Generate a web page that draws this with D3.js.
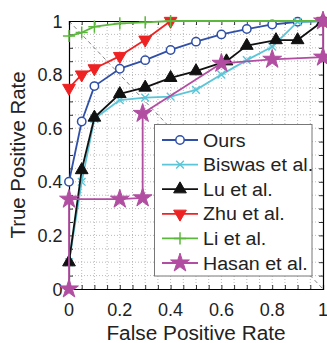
<!DOCTYPE html>
<html><head><meta charset="utf-8">
<script src="https://cdn.jsdelivr.net/npm/d3@7"></script>
<style>
html,body{margin:0;padding:0;background:#fff;}
svg{display:block;}
text{font-family:"Liberation Sans",Arial,sans-serif;fill:#222;}
</style></head>
<body><svg id="c" width="327" height="343"></svg>
<script>
// ---- data ----
const seriesNames = ["Ours","Biswas et al.","Lu et al.","Zhu et al.","Li et al.","Hasan et al."];
const oursFPR   = [0,0.05,0.1,0.2,0.3,0.4,0.5,0.6,0.7,0.8,0.9,1];
const oursTPR   = [0.40,0.625,0.757,0.822,0.854,0.892,0.923,0.95,0.97,0.987,0.997,1];
const biswasFPR = [0,0.05,0.1,0.2,0.3,0.4,0.5,0.6,0.7,0.8,0.9,1];
const biswasTPR = [0.10,0.40,0.635,0.705,0.714,0.718,0.743,0.80,0.854,0.904,0.997,1];
const luFPR     = [0,0.05,0.1,0.2,0.3,0.4,0.5,0.62,0.7,0.815,0.9,1];
const luTPR     = [0.10,0.444,0.64,0.728,0.752,0.788,0.813,0.85,0.908,0.929,0.929,1];
const zhuFPR    = [0,0.05,0.1,0.2,0.3,0.4,1];
const zhuTPR    = [0.75,0.80,0.823,0.869,0.93,1,1];
const liFPR     = [0,0.05,0.1,0.2,0.3,0.4,1];
const liTPR     = [0.944,0.957,0.979,0.991,0.995,1,1];
const hasanFPR  = [0,0,0.2,0.29,0.29,0.6,0.8,1,1];
const hasanTPR  = [0,0.335,0.335,0.34,0.655,0.842,0.857,0.865,1];
const xTicks = [0,0.2,0.4,0.6,0.8,1];
const yTicks = [0,0.2,0.4,0.6,0.8,1];
const xTickLabels = ["0","0.2","0.4","0.6","0.8","1"];
const yTickLabels = ["0","0.2","0.4","0.6","0.8","1"];
const minorTicks = d3.range(0,1.0001,0.05);
const xTitle = "False Positive Rate", yTitle = "True Positive Rate";

const colors = ["#3050a8","#5cc6d8","#111111","#ee2222","#5cb83c","#b24ea2"];
const markers = ["circle","x","tri","tridown","plus","star"];
const series = [
  {fpr:oursFPR,tpr:oursTPR},{fpr:biswasFPR,tpr:biswasTPR},{fpr:luFPR,tpr:luTPR},
  {fpr:zhuFPR,tpr:zhuTPR},{fpr:liFPR,tpr:liTPR},{fpr:hasanFPR,tpr:hasanTPR}
].map((s,i)=>({name:seriesNames[i],color:colors[i],marker:markers[i],
  pts:s.fpr.map((f,j)=>({x:f,y:s.tpr[j]}))}));

const svg = d3.select("#c");
const L=69,R=323,T=21,B=289;
const x = d3.scaleLinear().domain([0,1]).range([L,R]);
const y = d3.scaleLinear().domain([0,1]).range([B,T]);

function stretch(sel,f){ sel.each(function(){ const w=this.getComputedTextLength();
  d3.select(this).attr("textLength",w*f).attr("lengthAdjust","spacingAndGlyphs"); }); }

// grid
const g = svg.append("g");
g.selectAll(".gx").data(minorTicks.slice(1,-1)).join("line")
 .attr("x1",d=>x(d)).attr("x2",d=>x(d)).attr("y1",T).attr("y2",B)
 .attr("stroke","#aaa").attr("stroke-width",0.8).attr("stroke-dasharray","1,2");
g.selectAll(".gy").data(minorTicks.slice(1,-1)).join("line")
 .attr("y1",d=>y(d)).attr("y2",d=>y(d)).attr("x1",L).attr("x2",R)
 .attr("stroke","#aaa").attr("stroke-width",0.8).attr("stroke-dasharray","1,2");

// diagonal
svg.append("line").attr("x1",x(0)).attr("y1",y(1)).attr("x2",x(1)).attr("y2",y(0))
 .attr("stroke","#666").attr("stroke-width",0.8).attr("stroke-dasharray","4,3");

// axes
const ax = [
  svg.append("g").attr("transform",`translate(0,${B})`).call(d3.axisBottom(x).tickValues(minorTicks).tickSize(-4).tickFormat("")),
  svg.append("g").attr("transform",`translate(0,${T})`).call(d3.axisTop(x).tickValues(minorTicks).tickSize(-4).tickFormat("")),
  svg.append("g").attr("transform",`translate(${L},0)`).call(d3.axisLeft(y).tickValues(minorTicks).tickSize(-4).tickFormat("")),
  svg.append("g").attr("transform",`translate(${R},0)`).call(d3.axisRight(y).tickValues(minorTicks).tickSize(-4).tickFormat(""))
];
ax.forEach(a=>{a.select(".domain").attr("stroke","#000").attr("stroke-width",1.2);
  a.selectAll(".tick line").attr("stroke","#000").attr("stroke-width",0.8);});

// tick labels
svg.append("g").selectAll("text").data(xTicks).join("text")
 .attr("x",d=>x(d)).attr("y",315.5).attr("text-anchor","middle").attr("font-size",18)
 .text((d,i)=>xTickLabels[i]);
svg.append("g").selectAll("text").data(yTicks).join("text")
 .attr("x",62.5).attr("y",d=>y(d)+6.5).attr("text-anchor","end").attr("font-size",18)
 .text((d,i)=>yTickLabels[i]);

// titles
svg.append("text").attr("x",(L+R)/2).attr("y",339.5).attr("text-anchor","middle").attr("font-size",20).text(xTitle).call(stretch,1.04);
svg.append("text").attr("transform",`translate(25,155) rotate(-90)`).attr("text-anchor","middle").attr("font-size",20).text(yTitle).call(stretch,1.02);

// marker drawing
function drawMarker(sel, m, color){
  if(m==="circle"){
    sel.append("circle").attr("r",4.2).attr("fill","#fff").attr("stroke",color).attr("stroke-width",1.5);
  } else if(m==="x"){
    sel.append("path").attr("d",d3.symbol(d3.symbolX,40)()).attr("fill","none").attr("stroke",color).attr("stroke-width",1.4);
    sel.append("path").attr("d",d3.symbol(d3.symbolPlus,20)()).attr("fill","none").attr("stroke",color).attr("stroke-width",0.8).attr("transform","scale(1,0.4)");
  } else if(m==="tri"){
    sel.append("path").attr("d",d3.symbol(d3.symbolTriangle,70)()).attr("fill",color).attr("stroke",color).attr("stroke-width",1);
  } else if(m==="tridown"){
    sel.append("path").attr("d",d3.symbol(d3.symbolTriangle,70)()).attr("transform","rotate(180)").attr("fill",color).attr("stroke",color).attr("stroke-width",1);
  } else if(m==="plus"){
    sel.append("path").attr("d",d3.symbol(d3.symbolPlus,50)()).attr("fill","none").attr("stroke",color).attr("stroke-width",1.5);
  } else if(m==="star"){
    sel.append("path").attr("d",d3.symbol(d3.symbolStar,110)()).attr("fill",color).attr("stroke",color).attr("stroke-width",1);
  }
}

// curves
const line = d3.line().x(d=>x(d.x)).y(d=>y(d.y));
series.forEach(s=>{
  const gs = svg.append("g");
  gs.append("path").datum(s.pts).attr("d",line).attr("fill","none")
    .attr("stroke",s.color).attr("stroke-width",1.8).attr("stroke-linejoin","round");
  gs.selectAll("g").data(s.pts).join("g")
    .attr("transform",d=>`translate(${x(d.x)},${y(d.y)})`)
    .each(function(){drawMarker(d3.select(this),s.marker,s.color);});
});

// legend
const lg = svg.append("g");
lg.append("rect").attr("x",154.5).attr("y",124.5).attr("width",157.5).attr("height",151.5)
  .attr("fill","#fff").attr("stroke","#777").attr("stroke-width",1);
series.forEach((s,i)=>{
  const yy = 140 + i*24.6;
  lg.append("line").attr("x1",162).attr("x2",198).attr("y1",yy).attr("y2",yy).attr("stroke",s.color).attr("stroke-width",1.8);
  const mg = lg.append("g").attr("transform",`translate(180,${yy})`);
  drawMarker(mg,s.marker,s.color);
  lg.append("text").attr("x",203).attr("y",yy+6.5).attr("font-size",18).text(s.name).call(stretch,1.09);
});
</script></body></html>
